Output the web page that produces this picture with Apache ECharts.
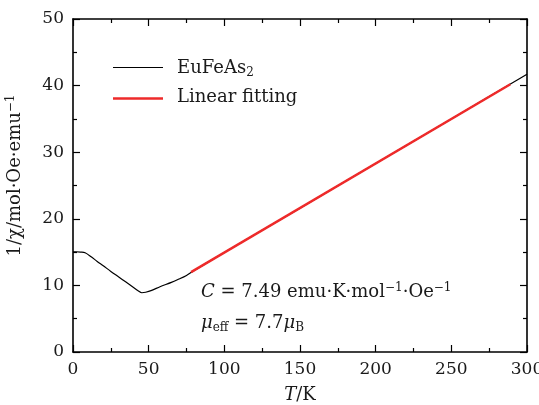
<!DOCTYPE html>
<html><head><meta charset="utf-8">
<script src="https://cdn.jsdelivr.net/npm/echarts@6/dist/echarts.min.js"></script>
<style>html,body{margin:0;padding:0;background:#fff}#c{width:539px;height:405px}</style>
</head><body><div id="c"></div>
<script>
const xTicks = [0, 50, 100, 150, 200, 250, 300];
const yTicks = [0, 10, 20, 30, 40, 50];
const tempK = [0, 2, 5, 8, 12, 16, 20, 25, 30, 35, 40, 43, 45.5, 48, 52, 57.5, 65, 70, 75, 78, 100, 150, 200, 250, 300];
const invChi = [15.05, 15.05, 15.0, 14.9, 14.3, 13.6, 12.95, 12.1, 11.3, 10.5, 9.7, 9.2, 8.9, 8.97, 9.25, 9.8, 10.45, 10.95, 11.5, 11.95, 14.95, 21.6, 28.3, 35.0, 41.7];
const fitT = [78, 289];
const fitVal = [12.0, 40.2];

const F = 'DejaVu Serif';
const C = '#1a1a1a';
const chart = echarts.init(document.getElementById('c'), null, {renderer: 'canvas'});
const mkAxis = (extra) => Object.assign({
  min: 0, type: 'value',
  axisLine: {show: true, onZero: false, lineStyle: {color: '#000', width: 1.6}},
  axisTick: {show: true, inside: true, length: 7, lineStyle: {color: '#000', width: 1.2}},
  minorTick: {show: true, splitNumber: 2, length: 4, lineStyle: {color: '#000', width: 1.2}},
  splitLine: {show: false}
}, extra);
chart.setOption({
  animation: false,
  grid: {left: 73, right: 12, top: 19, bottom: 53, containLabel: false, outerBoundsMode: 'none'},
  xAxis: [
    mkAxis({max: 300, interval: 50, position: 'bottom',
      axisLabel: {color: C, fontFamily: F, fontSize: 17, margin: 9, formatter: v => xTicks.includes(v) ? String(v) : ''},
      name: '{i|T}{n|/K}', nameLocation: 'middle', nameGap: 34,
      nameTextStyle: {rich: {i: {fontFamily: F, fontStyle: 'italic', fontSize: 18, color: C}, n: {fontFamily: F, fontSize: 18, color: C}}}}),
    mkAxis({max: 300, interval: 50, position: 'top', axisLabel: {show: false}})
  ],
  yAxis: [
    mkAxis({max: 50, interval: 10, position: 'left',
      axisLabel: {color: C, fontFamily: F, fontSize: 17, margin: 9, formatter: v => yTicks.includes(v) ? String(v) : ''},
      name: '{n|1/χ/mol·Oe·emu}{s|−1}', nameLocation: 'middle', nameGap: 47,
      nameTextStyle: {padding: [0, 0, 0, 20], rich: {n: {fontFamily: F, fontSize: 18, color: C}, s: {fontFamily: F, fontSize: 12, color: C, padding: [0, 0, 9, 0]}}}}),
    mkAxis({max: 50, interval: 10, position: 'right', axisLabel: {show: false}})
  ],
  series: [
    {name: 'EuFeAs2', type: 'line', showSymbol: false, symbol: 'none', smooth: 0.3,
      lineStyle: {color: '#000', width: 1.2}, data: tempK.map((t, i) => [t, invChi[i]]), z: 2},
    {name: 'Linear fitting', type: 'line', showSymbol: false, symbol: 'none',
      lineStyle: {color: '#ee2a2a', width: 2.5}, data: fitT.map((t, i) => [t, fitVal[i]]), z: 3}
  ],
  graphic: [
    {type: 'line', shape: {x1: 113, y1: 67.5, x2: 163, y2: 67.5}, style: {stroke: '#000', lineWidth: 1.2}},
    {type: 'line', shape: {x1: 113, y1: 98.5, x2: 163, y2: 98.5}, style: {stroke: '#ee2a2a', lineWidth: 2.5}},
    {type: 'text', x: 177, y: 68, style: {text: '{n|EuFeAs}{s|2}', verticalAlign: 'middle',
      rich: {n: {fontFamily: F, fontSize: 18, fill: C}, s: {fontFamily: F, fontSize: 12, fill: C, padding: [9, 0, 0, 0]}}}},
    {type: 'text', x: 177, y: 97, style: {text: 'Linear fitting', verticalAlign: 'middle', fontFamily: F, fontSize: 18, fill: C}},
    {type: 'text', x: 201, y: 292, style: {verticalAlign: 'middle',
      text: '{i|C}{n| = 7.49 emu·K·mol}{s|−1}{n|·Oe}{s|−1}',
      rich: {i: {fontFamily: F, fontStyle: 'italic', fontSize: 18, fill: C}, n: {fontFamily: F, fontSize: 18, fill: C}, s: {fontFamily: F, fontSize: 12, fill: C, padding: [0, 0, 9, 0]}}}},
    {type: 'text', x: 201, y: 323, style: {verticalAlign: 'middle',
      text: '{i|μ}{b|eff}{n| = 7.7}{i|μ}{b|B}',
      rich: {i: {fontFamily: F, fontStyle: 'italic', fontSize: 18, fill: C}, n: {fontFamily: F, fontSize: 18, fill: C}, b: {fontFamily: F, fontSize: 12, fill: C, padding: [9, 0, 0, 0]}}}}
  ]
});
</script></body></html>
